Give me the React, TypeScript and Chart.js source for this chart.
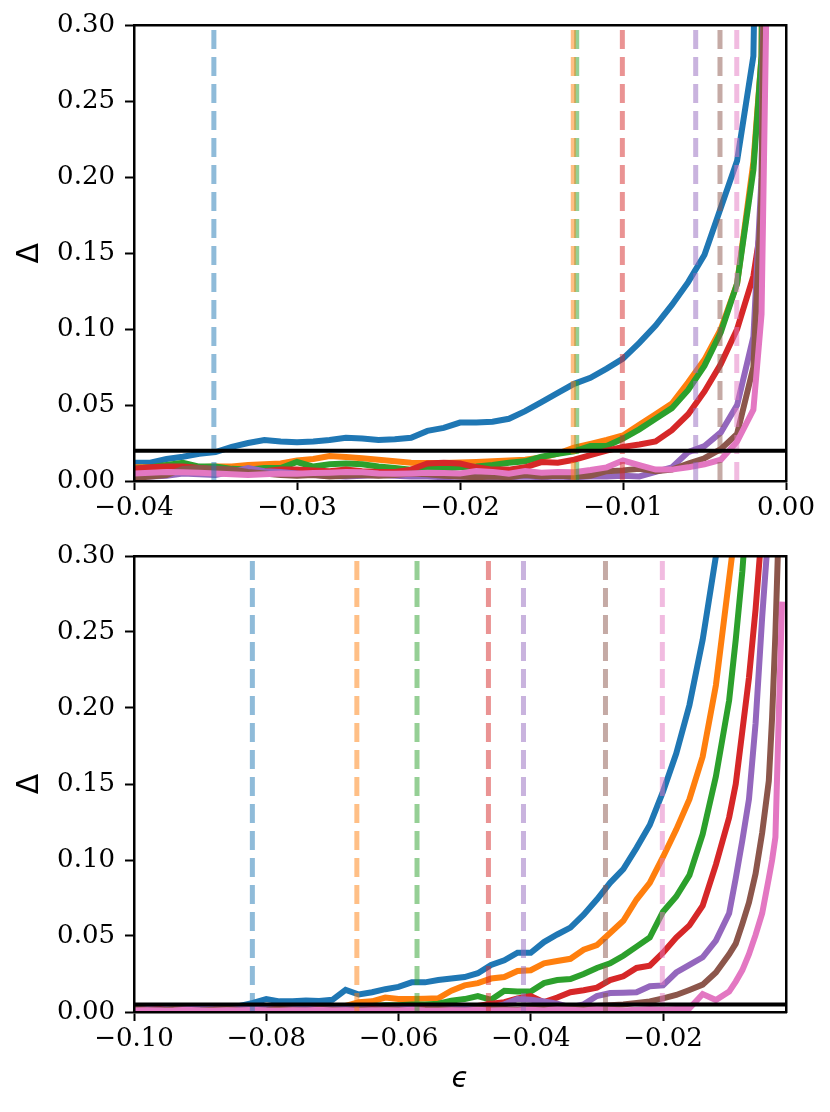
import { useEffect, useRef } from "react";
import { Chart, registerables } from "chart.js";

Chart.register(...registerables);
Chart.defaults.font.family = "DejaVu Serif";
Chart.defaults.color = "#000";

// tab10 colours, one per curve
const COLORS = ["#1f77b4", "#ff7f0e", "#2ca02c", "#d62728", "#9467bd", "#8c564b", "#e377c2"];
const FADED = [
  "rgba(31,119,180,0.5)",
  "rgba(255,127,14,0.5)",
  "rgba(44,160,44,0.5)",
  "rgba(214,39,40,0.5)",
  "rgba(148,103,189,0.5)",
  "rgba(140,86,75,0.5)",
  "rgba(227,119,194,0.5)",
];

const Y_TICKS = [0, 0.05, 0.1, 0.15, 0.2, 0.25, 0.3];

// ---- top panel ----
const TOP_EPS = [
  -0.040, -0.039, -0.038, -0.037, -0.036, -0.035, -0.034, -0.033, -0.032, -0.031,
  -0.030, -0.029, -0.028, -0.027, -0.026, -0.025, -0.024, -0.023, -0.022, -0.021,
  -0.020, -0.019, -0.018, -0.017, -0.016, -0.015, -0.014, -0.013, -0.012, -0.011,
  -0.010, -0.009, -0.008, -0.007, -0.006, -0.005, -0.004, -0.003, -0.002, -0.0015, -0.001,
];
const TOP_BLUE = [
  0.012, 0.012, 0.0145, 0.016, 0.018, 0.019, 0.0225, 0.025, 0.027, 0.026,
  0.0255, 0.026, 0.027, 0.0285, 0.028, 0.027, 0.0275, 0.0285, 0.033, 0.035,
  0.0385, 0.0385, 0.039, 0.041, 0.046, 0.052, 0.058, 0.064, 0.068, 0.074,
  0.0806, 0.091, 0.1024, 0.116, 0.131, 0.149, 0.18, 0.211, 0.28, 0.6, 1.2,
];
const TOP_ORANGE = [
  0.009, 0.009, 0.0095, 0.0095, 0.009, 0.0095, 0.0095, 0.0105, 0.011, 0.0115,
  0.0135, 0.0145, 0.0165, 0.0158, 0.015, 0.014, 0.013, 0.012, 0.0118, 0.0118,
  0.0122, 0.0125, 0.013, 0.0135, 0.014, 0.0155, 0.018, 0.022, 0.0245, 0.027,
  0.03, 0.037, 0.044, 0.051, 0.065, 0.08, 0.1, 0.13, 0.21, 0.28, 1.0,
];
const TOP_GREEN = [
  0.008, 0.009, 0.0105, 0.012, 0.0095, 0.0095, 0.008, 0.0075, 0.0085, 0.0085,
  0.0125, 0.0095, 0.011, 0.0115, 0.011, 0.0095, 0.0085, 0.0075, 0.0085, 0.008,
  0.009, 0.0095, 0.0105, 0.012, 0.013, 0.016, 0.018, 0.0195, 0.023, 0.023,
  0.028, 0.034, 0.041, 0.048, 0.06, 0.076, 0.098, 0.13, 0.205, 0.28, 1.0,
];
const TOP_RED = [
  0.008, 0.009, 0.0095, 0.0095, 0.0085, 0.0075, 0.0065, 0.006, 0.0065, 0.0075,
  0.0075, 0.007, 0.0065, 0.0075, 0.0065, 0.006, 0.006, 0.0075, 0.0115, 0.012,
  0.0115, 0.009, 0.0075, 0.0075, 0.009, 0.0125, 0.012, 0.014, 0.017, 0.02,
  0.0225, 0.024, 0.026, 0.0335, 0.044, 0.059, 0.077, 0.1, 0.135, 0.17, 0.45,
];
const TOP_PURPLE = [
  0.003, 0.003, 0.0035, 0.005, 0.0045, 0.004, 0.006, 0.0085, 0.0065, 0.006,
  0.005, 0.004, 0.0035, 0.003, 0.0035, 0.004, 0.0035, 0.003, 0.003, 0.0025,
  0.003, 0.0025, 0.002, 0.0025, 0.003, 0.0025, 0.003, 0.0025, 0.003, 0.003,
  0.0035, 0.003, 0.006, 0.009, 0.019, 0.023, 0.032, 0.05, 0.095, 0.2, 0.8,
];
const TOP_BROWN = [
  0.002, 0.003, 0.004, 0.008, 0.0085, 0.008, 0.0075, 0.006, 0.005, 0.004,
  0.0035, 0.004, 0.003, 0.0035, 0.004, 0.0035, 0.004, 0.005, 0.0045, 0.0035,
  0.003, 0.0025, 0.003, 0.0025, 0.004, 0.003, 0.0035, 0.003, 0.0035, 0.0065,
  0.007, 0.008, 0.0065, 0.0075, 0.0115, 0.015, 0.021, 0.031, 0.075, 0.19, 0.7,
];
const TOP_PINK = [
  0.005, 0.0055, 0.006, 0.0058, 0.0055, 0.005, 0.0045, 0.004, 0.0045, 0.005,
  0.0048, 0.0052, 0.0055, 0.006, 0.0058, 0.005, 0.0047, 0.005, 0.0055, 0.0052,
  0.005, 0.0065, 0.006, 0.0048, 0.0065, 0.0055, 0.006, 0.0058, 0.0072, 0.009,
  0.0135, 0.0105, 0.0075, 0.0075, 0.009, 0.011, 0.014, 0.026, 0.047, 0.11, 0.45,
];
const TOP_MARKERS = [-0.0351, -0.01305, -0.01284, -0.01004, -0.00554, -0.00405, -0.00302];
const TOP_THRESHOLD = 0.02;
const TOP_X_TICKS = [-0.04, -0.03, -0.02, -0.01, 0.0];

// ---- bottom panel ----
const BOT_EPS = [
  -0.100, -0.098, -0.096, -0.094, -0.092, -0.090, -0.088, -0.086, -0.084, -0.082,
  -0.080, -0.078, -0.076, -0.074, -0.072, -0.070, -0.068, -0.066, -0.064, -0.062,
  -0.060, -0.058, -0.056, -0.054, -0.052, -0.050, -0.048, -0.046, -0.044, -0.042,
  -0.040, -0.038, -0.036, -0.034, -0.032, -0.030, -0.028, -0.026, -0.024, -0.022,
  -0.020, -0.018, -0.016, -0.014, -0.012, -0.010,
  -0.009, -0.008, -0.007, -0.006, -0.005, -0.004, -0.0035, -0.003, -0.0025, -0.002,
];
const BOT_BLUE = [
  0.002, 0.002, 0.002, 0.0015, 0.002, 0.0025, 0.002, 0.003, 0.004, 0.006,
  0.0085, 0.007, 0.007, 0.0075, 0.0072, 0.008, 0.0145, 0.0115, 0.013, 0.015,
  0.0165, 0.0195, 0.0195, 0.021, 0.022, 0.023, 0.0255, 0.031, 0.034, 0.039,
  0.039, 0.046, 0.051, 0.0555, 0.064, 0.074, 0.085, 0.094, 0.108, 0.123,
  0.145, 0.17, 0.202, 0.245, 0.3, 0.38,
  0.43, 0.5, 0.6, 0.7, 0.85, 1.0, 1.1, 1.2, 1.35, 1.5,
];
const BOT_ORANGE = [
  0.001, 0.0015, 0.001, 0.002, 0.0015, 0.002, 0.0025, 0.002, 0.003, 0.002,
  0.0025, 0.003, 0.002, 0.0035, 0.0025, 0.003, 0.004, 0.0065, 0.007, 0.0095,
  0.0085, 0.0085, 0.0088, 0.009, 0.014, 0.0175, 0.019, 0.022, 0.023, 0.027,
  0.0275, 0.032, 0.0335, 0.035, 0.041, 0.044, 0.052, 0.06, 0.074, 0.085,
  0.102, 0.12, 0.14, 0.168, 0.215, 0.285,
  0.32, 0.37, 0.43, 0.5, 0.6, 0.7, 0.77, 0.85, 0.92, 1.0,
];
const BOT_GREEN = [
  0.002, 0.001, 0.002, 0.0015, 0.0025, 0.002, 0.003, 0.002, 0.0035, 0.003,
  0.002, 0.003, 0.0035, 0.0025, 0.003, 0.004, 0.003, 0.0035, 0.004, 0.0045,
  0.0045, 0.005, 0.005, 0.0055, 0.0075, 0.0085, 0.0105, 0.008, 0.014, 0.0135,
  0.0135, 0.019, 0.021, 0.0217, 0.025, 0.029, 0.032, 0.037, 0.043, 0.049,
  0.066, 0.076, 0.09, 0.117, 0.155, 0.205,
  0.245, 0.29, 0.35, 0.42, 0.5, 0.6, 0.67, 0.75, 0.82, 0.9,
];
const BOT_RED = [
  0.0015, 0.002, 0.0025, 0.002, 0.003, 0.004, 0.002, 0.0015, 0.002, 0.0025,
  0.002, 0.003, 0.0015, 0.002, 0.0025, 0.002, 0.003, 0.002, 0.0035, 0.002,
  0.0025, 0.003, 0.002, 0.0025, 0.003, 0.0035, 0.004, 0.0055, 0.0065, 0.009,
  0.0105, 0.0065, 0.0095, 0.013, 0.0143, 0.016, 0.021, 0.0235, 0.029, 0.0305,
  0.039, 0.049, 0.057, 0.07, 0.097, 0.128,
  0.15, 0.185, 0.22, 0.265, 0.32, 0.42, 0.48, 0.55, 0.62, 0.7,
];
const BOT_PURPLE = [
  0.001, 0.002, 0.0015, 0.0025, 0.002, 0.003, 0.002, 0.0015, 0.002, 0.0025,
  0.002, 0.0015, 0.0025, 0.002, 0.003, 0.002, 0.0025, 0.002, 0.0015, 0.002,
  0.0025, 0.002, 0.0015, 0.002, 0.0025, 0.002, 0.002, 0.003, 0.005, 0.0085,
  0.008, 0.007, 0.0055, 0.003, 0.005, 0.0105, 0.0125, 0.0127, 0.013, 0.017,
  0.0175, 0.026, 0.031, 0.036, 0.047, 0.065,
  0.088, 0.113, 0.14, 0.19, 0.26, 0.32, 0.38, 0.45, 0.52, 0.6,
];
const BOT_BROWN = [
  0.002, 0.0015, 0.001, 0.002, 0.0015, 0.001, 0.0015, 0.002, 0.001, 0.0015,
  0.001, 0.002, 0.0015, 0.001, 0.002, 0.0015, 0.001, 0.0015, 0.001, 0.002,
  0.0015, 0.001, 0.0015, 0.002, 0.0015, 0.001, 0.002, 0.0025, 0.002, 0.0015,
  0.002, 0.0025, 0.003, 0.0035, 0.003, 0.004, 0.0045, 0.005, 0.006, 0.007,
  0.009, 0.0112, 0.0145, 0.018, 0.026, 0.038,
  0.045, 0.058, 0.072, 0.091, 0.118, 0.152, 0.194, 0.249, 0.32, 0.4,
];
const BOT_PINK = [
  0.001, 0.0012, 0.0008, 0.001, 0.0015, 0.001, 0.0008, 0.0012, 0.001, 0.0015,
  0.001, 0.0008, 0.0012, 0.001, 0.0015, 0.001, 0.0012, 0.0008, 0.001, 0.0012,
  0.001, 0.0015, 0.001, 0.0008, 0.0012, 0.001, 0.0015, 0.001, 0.0012, 0.001,
  0.0015, 0.001, 0.002, 0.0015, 0.001, 0.002, 0.0015, 0.001, 0.0015, 0.002,
  0.0015, 0.002, 0.0024, 0.0118, 0.0079, 0.0134,
  0.02, 0.0276, 0.038, 0.0507, 0.065, 0.088, 0.1, 0.115, 0.194, 0.27,
];
const BOT_MARKERS = [-0.0821, -0.0663, -0.0572, -0.0464, -0.0411, -0.0287, -0.0201];
const BOT_THRESHOLD = 0.005;
const BOT_X_TICKS = [-0.1, -0.08, -0.06, -0.04, -0.02];

const fmt = (v: number) => (v < -1e-9 ? "\u2212" : "") + Math.abs(v).toFixed(2);

interface PanelProps {
  eps: number[];
  series: number[][];
  markers: number[];
  threshold: number;
  xMin: number;
  xMax: number;
  xTicks: number[];
  height: number;
  padTop: number;
  xAxisHeight: number;
  xTitle?: string;
}

function DeltaPanel({
  eps,
  series,
  markers,
  threshold,
  xMin,
  xMax,
  xTicks,
  height,
  padTop,
  xAxisHeight,
  xTitle,
}: PanelProps) {
  const canvasRef = useRef<HTMLCanvasElement | null>(null);

  useEffect(() => {
    if (!canvasRef.current) return;

    const curves = series.map((vals, i) => ({
      data: eps.map((x, j) => ({ x, y: vals[j] })),
      borderColor: COLORS[i],
      borderWidth: 6,
      pointRadius: 0,
      tension: 0,
      fill: false,
      clip: 0,
      order: 20 - i,
      xAxisID: "x",
      yAxisID: "y",
    }));
    const vlines = markers.map((m, i) => ({
      data: [
        { x: m, y: 0 },
        { x: m, y: 0.3 },
      ],
      borderColor: FADED[i],
      borderWidth: 5,
      borderDash: [19, 8],
      pointRadius: 0,
      clip: 0,
      order: 5,
      xAxisID: "x",
      yAxisID: "y",
    }));
    const hline = {
      data: [
        { x: xMin, y: threshold },
        { x: xMax, y: threshold },
      ],
      borderColor: "#000",
      borderWidth: 4,
      pointRadius: 0,
      clip: 0,
      order: 0,
      xAxisID: "x",
      yAxisID: "y",
    };

    const tickFont = { family: "DejaVu Serif", size: 26 };
    const tickGrid = {
      display: true,
      drawOnChartArea: false,
      drawTicks: true,
      tickLength: 9,
      tickWidth: 2,
      tickColor: "#000",
      color: "#000",
    };
    const spine = { display: true, color: "#000", width: 2.5, z: 1 };

    const chart = new Chart(canvasRef.current, {
      type: "line",
      data: { datasets: [hline, ...vlines, ...curves] as any },
      options: {
        responsive: false,
        animation: false,
        events: [],
        layout: { padding: { left: 0, top: padTop, right: 44, bottom: 0 } },
        plugins: {
          legend: { display: false },
          tooltip: { enabled: false },
        },
        scales: {
          x: {
            type: "linear",
            position: "bottom",
            min: xMin,
            max: xMax,
            afterBuildTicks: (scale: any) => {
              scale.ticks = xTicks.map((value) => ({ value }));
            },
            afterFit: (scale: any) => {
              scale.height = xAxisHeight;
            },
            ticks: {
              font: tickFont,
              color: "#000",
              padding: 3,
              autoSkip: false,
              maxRotation: 0,
              callback: (v: any) => fmt(Number(v)),
            },
            grid: tickGrid,
            border: spine,
            title: {
              display: !!xTitle,
              text: xTitle || "",
              color: "#000",
              font: { family: "DejaVu Sans", size: 28, style: "italic" },
              padding: { top: 0, bottom: 15 },
            },
          },
          y: {
            type: "linear",
            position: "left",
            min: 0,
            max: 0.3,
            afterBuildTicks: (scale: any) => {
              scale.ticks = Y_TICKS.map((value) => ({ value }));
            },
            afterFit: (scale: any) => {
              scale.width = 134;
            },
            ticks: {
              font: tickFont,
              color: "#000",
              padding: 10,
              autoSkip: false,
              callback: (v: any) => fmt(Number(v)),
            },
            grid: tickGrid,
            border: spine,
            title: {
              display: true,
              text: "\u0394",
              color: "#000",
              font: { family: "DejaVu Sans", size: 30 },
              padding: { top: 12, bottom: 0 },
            },
          },
          xTop: {
            type: "linear",
            position: "top",
            min: xMin,
            max: xMax,
            afterFit: (scale: any) => {
              scale.height = 0;
            },
            ticks: { display: false },
            grid: { display: false },
            border: spine,
          },
          yRight: {
            type: "linear",
            position: "right",
            min: 0,
            max: 0.3,
            afterFit: (scale: any) => {
              scale.width = 0;
            },
            ticks: { display: false },
            grid: { display: false },
            border: spine,
          },
        },
      } as any,
    });

    return () => {
      chart.destroy();
    };
  }, [eps, series, markers, threshold, xMin, xMax, xTicks, height, padTop, xAxisHeight, xTitle]);

  return <canvas ref={canvasRef} width={830} height={height} style={{ display: "block" }} />;
}

export default function App() {
  return (
    <div
      style={{
        position: "absolute",
        left: 0,
        top: 0,
        width: "830px",
        height: "1112px",
        background: "#fff",
      }}
    >
      <DeltaPanel
        eps={TOP_EPS}
        series={[TOP_BLUE, TOP_ORANGE, TOP_GREEN, TOP_RED, TOP_PURPLE, TOP_BROWN, TOP_PINK]}
        markers={TOP_MARKERS}
        threshold={TOP_THRESHOLD}
        xMin={-0.04}
        xMax={0}
        xTicks={TOP_X_TICKS}
        height={520}
        padTop={24}
        xAxisHeight={39}
      />
      <DeltaPanel
        eps={BOT_EPS}
        series={[BOT_BLUE, BOT_ORANGE, BOT_GREEN, BOT_RED, BOT_PURPLE, BOT_BROWN, BOT_PINK]}
        markers={BOT_MARKERS}
        threshold={BOT_THRESHOLD}
        xMin={-0.1}
        xMax={-0.0014}
        xTicks={BOT_X_TICKS}
        height={592}
        padTop={36}
        xAxisHeight={100}
        xTitle={"\u03f5"}
      />
    </div>
  );
}
